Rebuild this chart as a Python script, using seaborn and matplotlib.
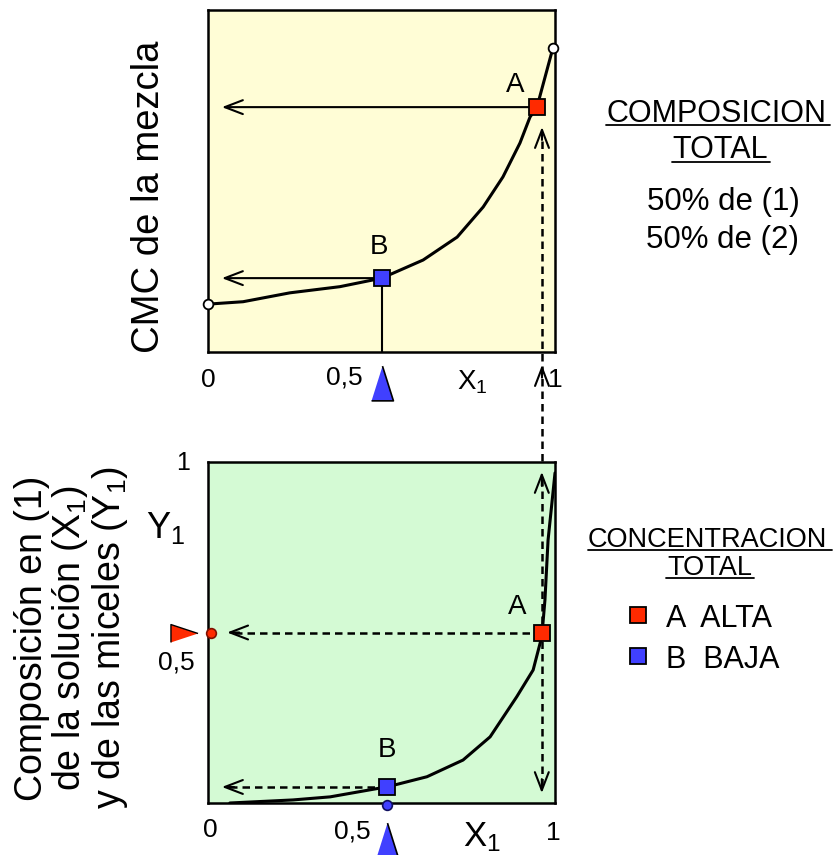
import matplotlib
matplotlib.use("Agg")
import matplotlib.pyplot as plt
import seaborn as sns
from matplotlib.lines import Line2D

# CMC of the mixture vs X1 (top panel)
cmc_x = [0.0, 0.101, 0.236, 0.380, 0.501, 0.620, 0.718, 0.793, 0.850, 0.899, 0.928, 0.948, 0.994]
cmc_y = [0.140, 0.147, 0.173, 0.191, 0.216, 0.269, 0.336, 0.424, 0.512, 0.611, 0.687, 0.716, 0.889]

# micelle composition Y1 vs solution composition X1 (bottom panel)
mic_x = [0.063, 0.245, 0.352, 0.519, 0.631, 0.735, 0.813, 0.890, 0.937, 0.962, 0.971, 0.980, 0.990, 1.0]
mic_y = [0.0, 0.009, 0.018, 0.048, 0.077, 0.126, 0.194, 0.312, 0.390, 0.488, 0.595, 0.771, 0.869, 0.968]

# points A (alta) and B (baja)
pt_names = ["A", "B"]
pt_colors = ["#ff2a00", "#4040ff"]
top_x = [0.948, 0.501]
top_y = [0.716, 0.216]
bot_x = [0.962, 0.517]
bot_y = [0.500, 0.047]
y_mix = 0.5          # Y1 of point A, marked on the axis
x_mix = 0.501        # overall composition 50/50

legend_labels = ["A  ALTA", "B  BAJA"]

sns.set_theme(style="white")
plt.rcParams["font.family"] = ["Liberation Sans", "DejaVu Sans"]
plt.rcParams["mathtext.default"] = "regular"
plt.rcParams["text.color"] = "black"

W, H = 835, 855
def fx(px):
    return px / W
def fy(py):
    return 1 - py / H

fig = plt.figure(figsize=(W / 100, H / 100), dpi=100)
ax1 = fig.add_axes([fx(208), fy(352), 347 / W, 342 / H])
ax2 = fig.add_axes([fx(208), fy(803), 347 / W, 341 / H])

for ax, bg in [(ax1, "#fffdd6"), (ax2, "#d4fad4")]:
    ax.set_facecolor(bg)
    ax.set_xlim(0, 1)
    ax.set_ylim(0, 1)
    ax.set_xticks([])
    ax.set_yticks([])
    for s in ax.spines.values():
        s.set_color("black")
        s.set_linewidth(1.8)

tall_tri = [(-0.315, -0.5), (0.315, -0.5), (0, 0.5)]
right_tri = [(-0.5, -0.33), (-0.5, 0.33), (0.5, 0)]
head = dict(arrowstyle="->,head_length=0.65,head_width=0.25", lw=1.5,
            color="black", mutation_scale=20, shrinkA=0, shrinkB=0)

# ---- top panel: CMC ----
sns.lineplot(x=cmc_x, y=cmc_y, sort=False, color="black", lw=2.2, ax=ax1)
ax1.plot([cmc_x[0], cmc_x[-1]], [cmc_y[0], cmc_y[-1]], "o", mfc="white", mec="black",
         ms=7, mew=1.3, clip_on=False, zorder=6)
# B drops to the axis
ax1.plot([top_x[1], top_x[1]], [0, top_y[1]], color="black", lw=1.5)
for xp, yp in zip(top_x, top_y):
    ax1.annotate("", xy=(0.04, yp), xytext=(xp, yp), arrowprops=head)
# dashed line from lower panel up to A
xd = 0.9625
ax1.plot([xd, xd], [-0.32, 0.63], color="black", lw=1.8, dashes=(3, 2), clip_on=False)
ax1.annotate("", xy=(xd, 0.658), xytext=(xd, 0.62), arrowprops=head, annotation_clip=False)
ax1.annotate("", xy=(xd, -0.038), xytext=(xd, -0.075), arrowprops=head, annotation_clip=False)
for xp, yp, c in zip(top_x, top_y, pt_colors):
    ax1.plot(xp, yp, "s", ms=11, mfc=c, mec="black", mew=1.3, zorder=7, clip_on=False)
ax1.text(0.885, 0.781, "A", fontsize=20, ha="center", va="center")
ax1.text(0.493, 0.307, "B", fontsize=20, ha="center", va="center")
ax1.plot(x_mix, -0.09, marker=tall_tri, ms=25, color="#4040ff", mec="black", mew=1.2,
         clip_on=False)
ax1.text(0.0, -0.082, "0", fontsize=19, ha="center", va="center")
ax1.text(0.392, -0.076, "0,5", fontsize=19, ha="center", va="center")
ax1.text(0.761, -0.088, "X$_1$", fontsize=20, ha="center", va="center")
ax1.text(1.0, -0.082, "1", fontsize=19, ha="center", va="center")

# ---- bottom panel: Y1 vs X1 ----
sns.lineplot(x=mic_x, y=mic_y, sort=False, color="black", lw=2.2, ax=ax2)
dash = dict(color="black", lw=1.8, dashes=(3, 2))
ax2.plot([bot_x[0], bot_x[0]], [0.05, 0.95], **dash)
ax2.annotate("", xy=(bot_x[0], 0.971), xytext=(bot_x[0], 0.93), arrowprops=head)
ax2.annotate("", xy=(bot_x[0], 0.029), xytext=(bot_x[0], 0.07), arrowprops=head)
ax2.plot([bot_x[0], 0.075], [bot_y[0], bot_y[0]], **dash)
ax2.annotate("", xy=(0.055, bot_y[0]), xytext=(0.09, bot_y[0]), arrowprops=head)
ax2.plot([bot_x[1], 0.06], [bot_y[1], bot_y[1]], **dash)
ax2.annotate("", xy=(0.04, bot_y[1]), xytext=(0.075, bot_y[1]), arrowprops=head)
for xp, yp, c in zip(bot_x, bot_y, pt_colors):
    ax2.plot(xp, yp, "s", ms=11, mfc=c, mec="black", mew=1.3, zorder=7, clip_on=False)
ax2.plot(0.0086, y_mix, "o", ms=7, mfc="#ff2a00", mec="#801000", mew=1.2, clip_on=False, zorder=7)
ax2.plot(-0.0706, y_mix, marker=right_tri, ms=19.5, color="#ff2a00", mec="black", mew=1.0,
         clip_on=False)
ax2.plot(bot_x[1], -0.006, "o", ms=7, mfc="#4040ff", mec="#101060", mew=1.2, clip_on=False, zorder=7)
ax2.plot(bot_x[1], -0.108, marker=tall_tri, ms=25, color="#4040ff", mec="black", mew=1.2,
         clip_on=False)
ax2.text(0.890, 0.575, "A", fontsize=20, ha="center", va="center")
ax2.text(0.516, 0.155, "B", fontsize=20, ha="center", va="center")
ax2.text(-0.072, 0.997, "1", fontsize=18, ha="center", va="center")
ax2.text(-0.121, 0.806, "Y$_1$", fontsize=26, ha="center", va="center")
ax2.text(-0.092, 0.413, "0,5", fontsize=19, ha="center", va="center")
ax2.text(0.006, -0.079, "0", fontsize=19, ha="center", va="center")
ax2.text(0.415, -0.085, "0,5", fontsize=19, ha="center", va="center")
ax2.text(0.79, -0.1, "X$_1$", fontsize=25, ha="center", va="center")
ax2.text(0.994, -0.088, "1", fontsize=19, ha="center", va="center")

# ---- axis titles ----
fig.text(fx(149), fy(197), "CMC de la mezcla", rotation=90, ha="center", va="center",
         fontsize=27.5)
fig.text(fx(72), fy(638), "Composición en (1)\nde la solución (X$_1$)\ny de las miceles (Y$_1$)",
         rotation=90, ha="center", va="center", multialignment="center", fontsize=27,
         linespacing=1.0)

# ---- right-hand notes ----
def underline(x0, x1, y):
    fig.add_artist(Line2D([fx(x0), fx(x1)], [fy(y), fy(y)], color="black", lw=1.3,
                          transform=fig.transFigure))

fig.text(fx(717), fy(122), "COMPOSICION", fontsize=22, ha="center", va="baseline")
underline(606, 830, 125)
fig.text(fx(720), fy(158), "TOTAL", fontsize=22, ha="center", va="baseline")
underline(672, 770, 162)
fig.text(fx(723), fy(210), "50% de (1)", fontsize=22.5, ha="center", va="baseline")
fig.text(fx(723), fy(248), "50% de (2)", fontsize=22.5, ha="center", va="baseline")

fig.text(fx(707), fy(547), "CONCENTRACION", fontsize=19.5, ha="center", va="baseline")
underline(588, 832, 550)
fig.text(fx(710), fy(575), "TOTAL", fontsize=19.5, ha="center", va="baseline")
underline(666, 754, 578)
for lab, c, ys in zip(legend_labels, pt_colors, [615, 656]):
    fig.add_artist(Line2D([fx(638)], [fy(ys)], marker="s", ms=12, mfc=c, mec="black", mew=1.3,
                          transform=fig.transFigure))
    fig.text(fx(666), fy(ys + 12), lab, fontsize=22, ha="left", va="baseline")

fig.savefig("out.png", dpi=100)
